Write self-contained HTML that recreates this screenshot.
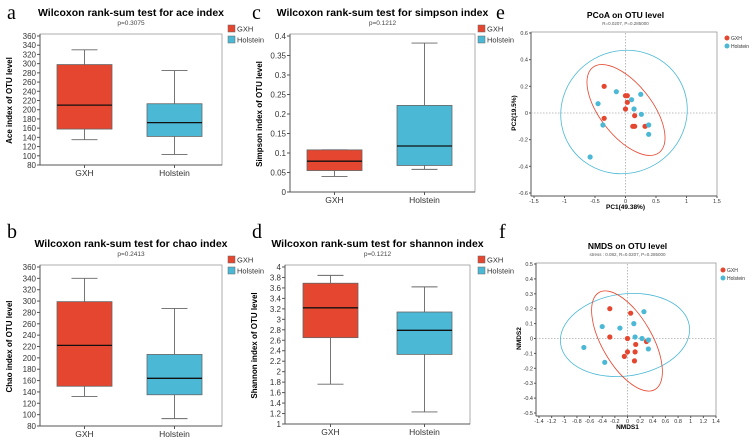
<!DOCTYPE html>
<html><head><meta charset="utf-8"><style>
html,body{margin:0;padding:0;background:#fff;}
svg{display:block;font-family:"Liberation Sans",sans-serif;}
.lt{font-family:"Liberation Serif",serif;font-size:20px;}
.tk{font-size:8px;fill:#333;}
</style></head><body>
<svg id="fig" width="752" height="441" viewBox="0 0 752 441"></svg>
<script>
// ---- data ----
const groups = ["GXH","Holstein"];
const aTicks = [80,100,120,140,160,180,200,220,240,260,280,300,320,340,360];
const aGXH = [135,158,210,298,330];
const aHol = [103,142,172,213,285];
const bTicks = [80,100,120,140,160,180,200,220,240,260,280,300,320,340,360];
const bGXH = [132,150,222,299,340];
const bHol = [93,135,164,206,287];
const cTicks = [0,0.05,0.1,0.15,0.2,0.25,0.3,0.35,0.4];
const cGXH = [0.04,0.055,0.079,0.108,0.108];
const cHol = [0.058,0.068,0.118,0.222,0.382];
const dTicks = [1,1.2,1.4,1.6,1.8,2,2.2,2.4,2.6,2.8,3,3.2,3.4,3.6,3.8,4];
const dGXH = [1.76,2.65,3.22,3.69,3.84];
const dHol = [1.23,2.33,2.79,3.14,3.62];
const eXTicks = [-1.5,-1,-0.5,0,0.5,1,1.5];
const eYTicks = [-0.6,-0.4,-0.2,0,0.2,0.4,0.6];
const eGxhX = [-0.35,0,0.03,0.03,0,0.15,-0.35,0.12,0.15,0.32];
const eGxhY = [0.2,0.13,0.13,0.08,0.03,-0.02,-0.04,-0.1,-0.1,-0.1];
const eHolX = [-0.15,-0.45,0.1,0.25,0.14,0.26,-0.37,0.38,0.38,-0.58];
const eHolY = [0.16,0.07,0.1,0.14,0.03,-0.01,-0.09,-0.09,-0.16,-0.33];
const fXTicks = [-1.4,-1.2,-1,-0.8,-0.6,-0.4,-0.2,0,0.2,0.4,0.6,0.8,1,1.2,1.4];
const fYTicks = [-0.5,-0.4,-0.3,-0.2,-0.1,0,0.1,0.2,0.3,0.4,0.5];
const fGxhX = [-0.28,0.05,-0.28,0,0.13,0.3,0,0.12,-0.05,0.11];
const fGxhY = [0.2,0.17,0.01,0,-0.04,-0.02,-0.09,-0.09,-0.12,-0.15];
const fHolX = [0.26,-0.4,-0.12,0.1,0.12,0.23,0.33,0.33,-0.69,-0.36];
const fHolY = [0.18,0.08,0.07,0.1,0.01,0,-0.01,-0.07,-0.06,-0.16];

const RED="#e5462f", BLUE="#4bb8d5";
const NS="http://www.w3.org/2000/svg";
const svg=document.getElementById('fig');
function el(tag,attrs,parent,text){
  const e=document.createElementNS(NS,tag);
  for(const k in attrs)e.setAttribute(k,attrs[k]);
  if(text!==undefined)e.textContent=text;
  (parent||svg).appendChild(e);return e;
}
function panelGroup(name){
  const g=el('g',{});
  
  
  return g;
}
function boxPanel(name,letter,lx,ly,title,p,ylab,ticks,data,L,R,T,B,boxX,legX,legY){
  const g=panelGroup(name);
  const lt=el('text',{x:lx,y:ly,class:'lt'},g,letter);
  
  
  const cx=(L+R)/2;
  const tt=el('text',{x:cx,y:T-20,'text-anchor':'middle','font-size':'10.5','font-weight':'bold'},g,title);
  
  
  const pt=el('text',{x:cx,y:T-11,'text-anchor':'middle','font-size':'6.5',fill:'#444'},g,p);
  
  
  const y0=ticks[0], y1=ticks[ticks.length-1];
  const sy=v=>B-(v-y0)/(y1-y0)*(B-T);
  el('rect',{x:L,y:T-2,width:R-L,height:B-T+2,fill:'none',stroke:'#999','stroke-width':0.8},g);
  el('line',{x1:L,y1:T-2,x2:L,y2:B,stroke:'#555','stroke-width':1},g);
  el('line',{x1:L,y1:B,x2:R,y2:B,stroke:'#555','stroke-width':1},g);
  ticks.forEach(t=>{
    const y=sy(t);
    el('line',{x1:L-3,y1:y,x2:L,y2:y,stroke:'#555'},g);
    const tx=el('text',{x:L-4,y:y+3,'text-anchor':'end',class:'tk'},g,String(t));
    
    
  });
  const yl=el('text',{x:0,y:0,transform:`translate(${L-28},${(T+B)/2}) rotate(-90)`,'text-anchor':'middle','font-size':'8','font-weight':'bold'},g,ylab);
  
  
  data.forEach((d,i)=>{
    const x0=boxX[i], w=55, mx=x0+w/2, col=i?BLUE:RED;
    el('line',{x1:mx,y1:B,x2:mx,y2:B+3,stroke:'#555'},g);
    const xl=el('text',{x:mx,y:B+11,'text-anchor':'middle','font-size':'8.5',fill:'#333'},g,groups[i]);
    
    
    el('line',{x1:mx,y1:sy(d[0]),x2:mx,y2:sy(d[4]),stroke:'#666','stroke-width':0.9},g);
    el('line',{x1:mx-13,y1:sy(d[0]),x2:mx+13,y2:sy(d[0]),stroke:'#666','stroke-width':0.9},g);
    el('line',{x1:mx-13,y1:sy(d[4]),x2:mx+13,y2:sy(d[4]),stroke:'#666','stroke-width':0.9},g);
    const bx=el('rect',{x:x0,y:sy(d[3]),width:w,height:sy(d[1])-sy(d[3]),fill:col,stroke:'#666','stroke-width':0.8},g);
    
    
    el('line',{x1:x0,y1:sy(d[2]),x2:x0+w,y2:sy(d[2]),stroke:'#111','stroke-width':1.3},g);
  });
  groups.forEach((gn,i)=>{
    const lg=el('g',{},g);
    
    
    el('rect',{x:legX,y:legY+i*11-4,width:7,height:7,fill:i?BLUE:RED,stroke:'#666','stroke-width':0.5},lg);
    el('text',{x:legX+9,y:legY+i*11+2.5,'font-size':'7.5',fill:'#333'},lg,gn);
  });
}
boxPanel('panel-a-ace','a',7,19,'Wilcoxon rank-sum test for ace index','p=0.3075','Ace index of OTU level',aTicks,[aGXH,aHol],40,222,36,165,[57,147],228,29);
boxPanel('panel-b-chao','b',7,238,'Wilcoxon rank-sum test for chao index','p=0.2413','Chao index of OTU level',bTicks,[bGXH,bHol],40,222,267,426,[57,147],228,260);
boxPanel('panel-c-simpson','c',252,19,'Wilcoxon rank-sum test for simpson index','p=0.1212','Simpson index of OTU level',cTicks,[cGXH,cHol],290,475,36,192,[307,397],478,29);
boxPanel('panel-d-shannon','d',252,238,'Wilcoxon rank-sum test for shannon index','p=0.1212','Shannon index of OTU level',dTicks,[dGXH,dHol],285,470,267,424,[303,397],478,260);

function scatterPanel(name,letter,lx,ly,title,sub,xlab,ylab,xt,yt,L,R,T,B,pts,ells,legX,legY){
  const g=panelGroup(name);
  const lt=el('text',{x:lx,y:ly,class:'lt'},g,letter);
  
  
  const x0=xt[0],x1=xt[xt.length-1],y0=yt[0],y1=yt[yt.length-1];
  const sx=v=>L+(v-x0)/(x1-x0)*(R-L), sy=v=>B-(v-y0)/(y1-y0)*(B-T);
  const cx=(L+R)/2;
  const tt=el('text',{x:cx,y:T-15,'text-anchor':'middle','font-size':'8.5','font-weight':'bold'},g,title);
  
  
  const st=el('text',{x:cx,y:T-8,'text-anchor':'middle','font-size':'4.5',fill:'#555'},g,sub);
  
  
  el('rect',{x:L-3,y:T-1,width:R-L+3,height:B-T+4,fill:'none',stroke:'#999','stroke-width':0.8},g);
  el('line',{x1:L-3,y1:T-1,x2:L-3,y2:B+3,stroke:'#555'},g);
  el('line',{x1:L-3,y1:B+3,x2:R,y2:B+3,stroke:'#555'},g);
  el('line',{x1:sx(0),y1:T,x2:sx(0),y2:B+3,stroke:'#aaa','stroke-dasharray':'1.5,1.5','stroke-width':0.8},g);
  el('line',{x1:L-3,y1:sy(0),x2:R,y2:sy(0),stroke:'#aaa','stroke-dasharray':'1.5,1.5','stroke-width':0.8},g);
  xt.forEach(t=>{
    el('line',{x1:sx(t),y1:B+3,x2:sx(t),y2:B+5,stroke:'#555'},g);
    const tx=el('text',{x:sx(t),y:B+10,'text-anchor':'middle','font-size':'5.5',fill:'#333'},g,String(t));
    
    
  });
  yt.forEach(t=>{
    el('line',{x1:L-5,y1:sy(t),x2:L-3,y2:sy(t),stroke:'#555'},g);
    const tx=el('text',{x:L-6,y:sy(t)+2,'text-anchor':'end','font-size':'5.5',fill:'#333'},g,String(t));
    
    
  });
  const xl=el('text',{x:cx,y:B+16,'text-anchor':'middle','font-size':'6.5','font-weight':'bold'},g,xlab);
  
  
  const yl=el('text',{x:0,y:0,transform:`translate(${L-18},${(T+B)/2}) rotate(-90)`,'text-anchor':'middle','font-size':'6.5','font-weight':'bold'},g,ylab);
  
  
  ells.forEach(e=>{
    const ee=el('ellipse',{cx:e[0],cy:e[1],rx:e[2],ry:e[3],transform:`rotate(${e[4]} ${e[0]} ${e[1]})`,fill:'none',stroke:e[5],'stroke-width':0.8},g);
    
    
  });
  pts.forEach((s,i)=>{
    s[0].forEach((v,j)=>{
      const c=el('circle',{cx:sx(v),cy:sy(s[1][j]),r:2.6,fill:i?BLUE:RED},g);
      
      
    });
  });
  groups.forEach((gn,i)=>{
    const lg=el('g',{},g);
    
    
    el('circle',{cx:legX,cy:legY+i*8,r:2.5,fill:i?BLUE:RED},lg);
    el('text',{x:legX+4,y:legY+i*8+2,'font-size':'5',fill:'#333'},lg,gn);
  });
}
scatterPanel('panel-e-pcoa','e',496,19,'PCoA on OTU level','R=0.0207, P=0.285000','PC1(49.38%)','PC2(19.5%)',eXTicks,eYTicks,534,717,33,193,[[eGxhX,eGxhY],[eHolX,eHolY]],[[624,112,64,61,-30,BLUE],[626,110,54,26,52,RED]],727,38);
scatterPanel('panel-f-nmds','f',499,238,'NMDS on OTU level','stress : 0.082, R=0.0207, P=0.285000','NMDS1','NMDS2',fXTicks,fYTicks,539,716,264,413,[[fGxhX,fGxhY],[fHolX,fHolY]],[[625,335,65,41,-8,BLUE],[627,341,56,25,60,RED]],723,270);
</script>
</body></html>
